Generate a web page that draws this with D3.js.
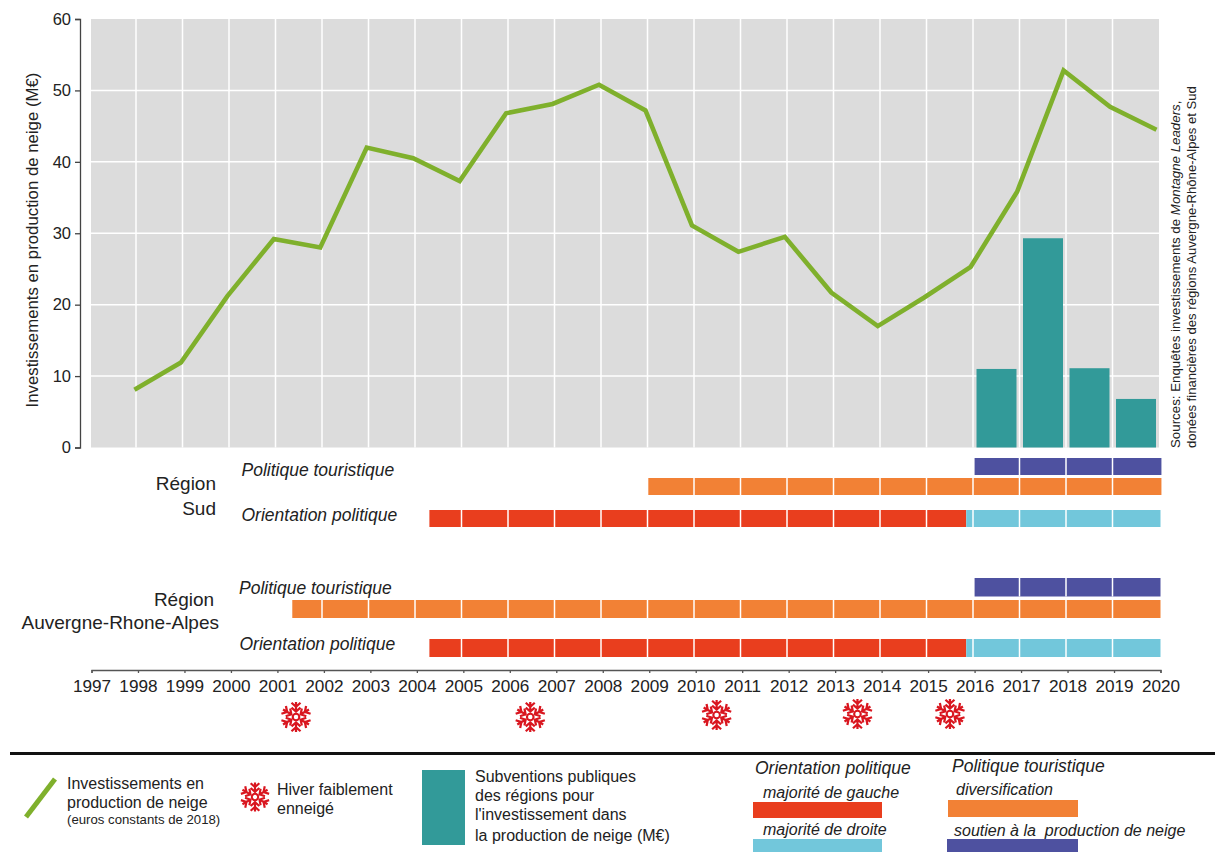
<!DOCTYPE html>
<html><head><meta charset="utf-8">
<script src="https://cdn.jsdelivr.net/npm/d3@7"></script>
<style>html,body{margin:0;background:#fff}svg{display:block}text{font-family:"Liberation Sans",Arial,sans-serif;fill:#222}</style>
</head><body><svg id="c" width="1215" height="852"></svg>
<script>
const lineYears=[1998,1999,2000,2001,2002,2003,2004,2005,2006,2007,2008,2009,2010,2011,2012,2013,2014,2015,2016,2017,2018,2019,2020];
const investments=[8.1,11.9,21.2,29.2,28,42,40.5,37.3,46.8,48.1,50.8,47.2,31.1,27.4,29.5,21.7,17,21,25.3,35.8,52.8,47.7,44.5];
const barYears=[2016,2017,2018,2019];
const subsidies=[11,29.3,11.1,6.8];
const axisYears=d3.range(1997,2021);
const yTicks=[0,10,20,30,40,50,60];
const ribbons=[
 {label:"sud-t1",from:2016,to:2020.02,color:"#4e51a0",row:0},
 {label:"sud-t2",from:2008.98,to:2020.02,color:"#f28135",row:1},
 {label:"sud-o1",from:2004.27,to:2015.82,color:"#e93e1e",row:2},
 {label:"sud-o2",from:2015.82,to:2020,color:"#72c7db",row:2},
 {label:"ara-t1",from:2016,to:2020,color:"#4e51a0",row:3},
 {label:"ara-t2",from:2001.32,to:2020,color:"#f28135",row:4},
 {label:"ara-o1",from:2004.27,to:2015.82,color:"#e93e1e",row:5},
 {label:"ara-o2",from:2015.82,to:2020,color:"#72c7db",row:5}];
const rowTops=[458,478,510,578,600,639], rowHeights=[17,17,17,18.5,18,18];
const snowYears=[2001.4,2006.44,2010.45,2013.48,2015.47];
const snowY=[717,717,715,714,714];

const svg=d3.select("#c");
const xAxisScale=d3.scaleLinear().domain([1997,2020]).range([91.5,1160.5]);
const xGrid=d3.scaleLinear().domain([1997,2020]).range([89.5,1159]);
const xLine=d3.scaleLinear().domain([1997,2020]).range([88,1156.5]);
const y=d3.scaleLinear().domain([0,60]).range([447.5,19]);

svg.append("rect").attr("x",91).attr("y",19).attr("width",1068).attr("height",428.5).attr("fill","#dcdcdc");
svg.append("g").selectAll("line").data(yTicks.slice(1,6)).join("line")
 .attr("x1",91).attr("x2",1159).attr("y1",d=>y(d)).attr("y2",d=>y(d)).attr("stroke","#fff").attr("stroke-width",1.5);
svg.append("g").selectAll("line").data(axisYears.slice(1,-1)).join("line")
 .attr("x1",d=>xGrid(d)).attr("x2",d=>xGrid(d)).attr("y1",19).attr("y2",447.5).attr("stroke","#fff").attr("stroke-width",1.5);

svg.append("g").selectAll("rect").data(barYears).join("rect")
 .attr("x",d=>xGrid(d)+3.5).attr("width",40)
 .attr("y",(d,i)=>y(subsidies[i])).attr("height",(d,i)=>y(0)-y(subsidies[i])).attr("fill","#329a99");

const line=d3.line().x((d,i)=>xLine(lineYears[i])).y(d=>y(d));
svg.append("path").datum(investments).attr("d",line).attr("fill","none").attr("stroke","#7fb02c").attr("stroke-width",4.6).attr("stroke-linejoin","miter");

const yAxis=d3.axisLeft(y).tickValues(yTicks).tickSize(5).tickPadding(4);
const yg=svg.append("g").attr("transform","translate(80,0)").call(yAxis);
yg.selectAll("path,line").attr("stroke","#444").attr("stroke-width",1.3);
yg.selectAll("text").attr("font-size",16.5).style("font-family",'"Liberation Sans",Arial,sans-serif').style("fill","#222");
svg.append("text").attr("transform","translate(38,240) rotate(-90)").attr("text-anchor","middle").attr("font-size",16.8).text("Investissements en production de neige (M€)");

ribbons.forEach(r=>{
 svg.append("rect").attr("x",xAxisScale(r.from)).attr("width",xAxisScale(r.to)-xAxisScale(r.from))
  .attr("y",rowTops[r.row]).attr("height",rowHeights[r.row]).attr("fill",r.color);
 svg.append("g").selectAll("line").data(axisYears.filter(v=>v<2020&&xGrid(v)>xAxisScale(r.from)+2&&xGrid(v)<xAxisScale(r.to)-2)).join("line")
  .attr("x1",d=>xGrid(d)).attr("x2",d=>xGrid(d)).attr("y1",rowTops[r.row]).attr("y2",rowTops[r.row]+rowHeights[r.row]).attr("stroke","#fff").attr("stroke-width",1.5);
});

const xg=svg.append("g").attr("transform","translate(0,670)").call(d3.axisBottom(xAxisScale).tickValues(axisYears).tickFormat(d3.format("d")).tickSize(3).tickPadding(7));
xg.selectAll("path,line").attr("stroke","#555").attr("stroke-width",1.3);
xg.selectAll("text").attr("font-size",17.2).style("font-family",'"Liberation Sans",Arial,sans-serif').style("fill","#222");

function text(x,yy,s,o={}){return svg.append("text").attr("x",x).attr("y",yy).attr("font-size",o.size||15).attr("font-style",o.italic?"italic":null).attr("text-anchor",o.anchor||"start").text(s);}
text(216,490,"Région",{size:19,anchor:"end"});
text(216,515,"Sud",{size:19,anchor:"end"});
text(184,606,"Région",{size:19,anchor:"middle"});
text(219,629,"Auvergne-Rhone-Alpes",{size:19,anchor:"end"});
text(241.5,476,"Politique touristique",{italic:true,size:17.5});
text(241.5,521,"Orientation politique",{italic:true,size:17.5});
text(239,594,"Politique touristique",{italic:true,size:17.5});
text(239.5,650,"Orientation politique",{italic:true,size:17.5});

function flake(cx,cy,r){
 const g=svg.append("g").attr("transform",`translate(${cx},${cy})`).attr("stroke","#d9161f").attr("fill","none").attr("stroke-width",r*0.15);
 d3.range(6).forEach(i=>{
  const p=d3.path();
  p.moveTo(0,-r*0.3);p.lineTo(0,-r);
  p.moveTo(-r*0.3,-r*0.95);p.lineTo(0,-r*0.68);p.lineTo(r*0.3,-r*0.95);
  p.moveTo(-r*0.3,-r*0.62);p.lineTo(0,-r*0.36);p.lineTo(r*0.3,-r*0.62);
  g.append("path").attr("d",p.toString()).attr("transform",`rotate(${i*60})`);
 });
 g.append("circle").attr("r",r*0.22).attr("stroke-width",r*0.14);
}
snowYears.forEach((d,i)=>flake(xAxisScale(d),snowY[i],15));

svg.append("text").attr("transform","translate(1180,448) rotate(-90)").attr("font-size",13.3)
 .html('Sources: Enquêtes investissements de <tspan font-style="italic">Montagne Leaders</tspan>,');
svg.append("text").attr("transform","translate(1196,448) rotate(-90)").attr("font-size",13.1)
 .text("donées financières des régions Auvergne-Rhône-Alpes et Sud");

svg.append("rect").attr("x",10).attr("y",752).attr("width",1205).attr("height",3).attr("fill","#111");

svg.append("line").attr("x1",26).attr("y1",817).attr("x2",55).attr("y2",779).attr("stroke","#7fb02c").attr("stroke-width",5);
text(67,789,"Investissements en",{size:16});
text(67,808,"production de neige",{size:16});
text(67,824,"(euros constants de 2018)",{size:13.2});
flake(255,797,14.5);
text(277,795,"Hiver faiblement",{size:16});
text(277,814,"enneigé",{size:16});
svg.append("rect").attr("x",422).attr("y",770).attr("width",43).attr("height",75).attr("fill","#329a99");
text(475,782,"Subventions publiques",{size:16});
text(475,801,"des régions pour",{size:16});
text(475,820,"l'investissement dans",{size:16});
text(475,841,"la production de neige (M€)",{size:16});
text(755,774,"Orientation politique",{size:17.5,italic:true});
text(763,798,"majorité de gauche",{size:16,italic:true});
svg.append("rect").attr("x",753).attr("y",802).attr("width",129).attr("height",16).attr("fill","#e93e1e");
text(763,835,"majorité de droite",{size:16,italic:true});
svg.append("rect").attr("x",753).attr("y",839).attr("width",129).attr("height",13).attr("fill","#72c7db");
text(952,772,"Politique touristique",{size:17.5,italic:true});
text(956,795,"diversification",{size:16,italic:true});
svg.append("rect").attr("x",948).attr("y",800).attr("width",130).attr("height",17).attr("fill","#f28135");
text(954,836,"soutien à la  production de neige",{size:16,italic:true}).style("white-space","pre");
svg.append("rect").attr("x",947).attr("y",839).attr("width",131).attr("height",13).attr("fill","#4e51a0");
</script></body></html>
